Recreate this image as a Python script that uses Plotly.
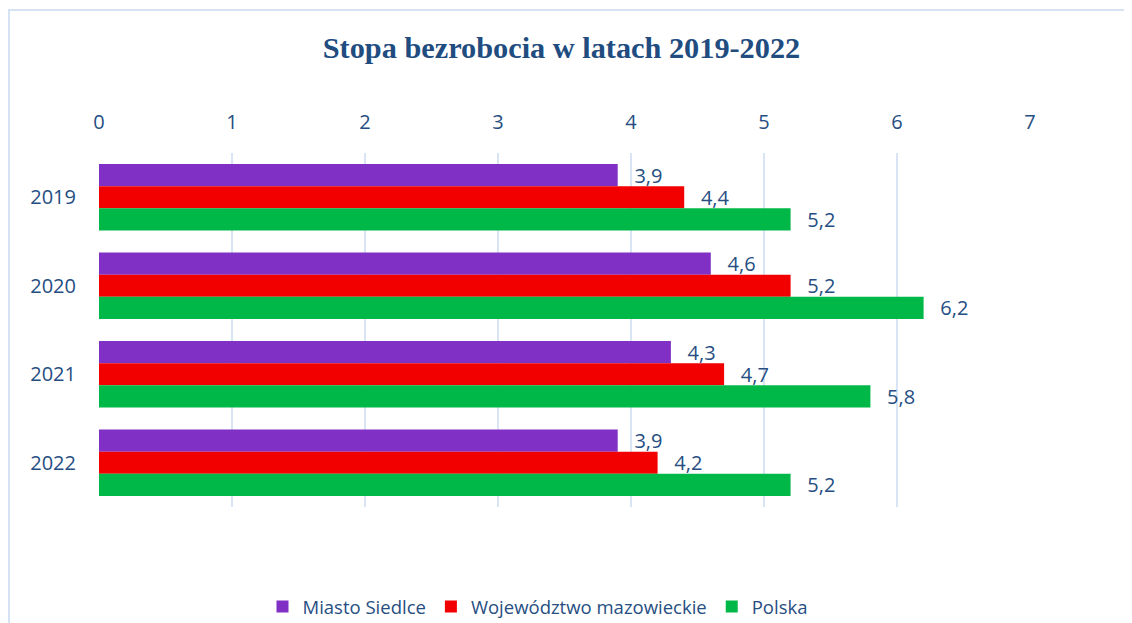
import plotly.graph_objects as go

years = ["2019", "2020", "2021", "2022"]
series_names = ["Miasto Siedlce", "Województwo mazowieckie", "Polska"]
siedlce = [3.9, 4.6, 4.3, 3.9]
mazowieckie = [4.4, 5.2, 4.7, 4.2]
polska = [5.2, 6.2, 5.8, 5.2]
x_ticks = [0, 1, 2, 3, 4, 5, 6, 7]

colors = ["#8030C4", "#F20000", "#00B847"]
text_color = "#264E82"
font_family = "Open Sans, Lato, sans-serif"

W, H = 1124, 615  # page adds an 8px body margin
L, R, T, B = 91, 102, 145, 116
pw, ph = W - L - R, H - T - B

fig = go.Figure()
for name, vals, col in zip(series_names, [siedlce, mazowieckie, polska], colors):
    fig.add_trace(go.Bar(
        y=years, x=vals, name=name, orientation="h",
        marker=dict(color=col, line=dict(width=0)),
        text=["\u00a0\u00a0\u2009" + f"{v:.1f}".replace(".", ",") for v in vals],
        textposition="outside",
        constraintext="none",
        textfont=dict(size=20, color=text_color, family=font_family),
        cliponaxis=False,
    ))

fig.update_layout(
    width=W, height=H,
    paper_bgcolor="white", plot_bgcolor="white",
    barmode="group", bargap=0.25, bargroupgap=0,
    margin=dict(l=L, r=R, t=T, b=B, autoexpand=False),
    title=dict(text="<b>Stopa bezrobocia w latach 2019-2022</b>",
               x=553.5 / W, xanchor="center", y=1 - 39 / H, yanchor="middle",
               font=dict(family="Liberation Serif, Times New Roman, serif", size=30.3, color="#214C80")),
    legend=dict(orientation="h", x=0.471, xanchor="center", y=(ph - (599 - T)) / ph, yanchor="middle",
                font=dict(size=18.5, color=text_color, family=font_family),
                itemwidth=30, traceorder="normal"),
    xaxis=dict(side="top", range=[0, 7], tickvals=x_ticks, showgrid=True,
               gridcolor="#D9E5F5", gridwidth=2, zeroline=False, showline=False,
               tickfont=dict(size=20, color=text_color, family=font_family),
               ticklabelstandoff=19),
    yaxis=dict(autorange="reversed", showgrid=False, showline=False, zeroline=False,
               tickfont=dict(size=20, color=text_color, family=font_family),
               ticklabelstandoff=22),
    showlegend=True,
)

# outer chart frame (partially visible)
fig.add_shape(type="rect", xref="paper", yref="paper",
              x0=(1 - L) / pw, x1=(W + 20 - L) / pw,
              y0=(ph - (H + 20 - T)) / ph, y1=(ph - (2 - T)) / ph,
              line=dict(color="#D6E3F5", width=2), fillcolor="rgba(0,0,0,0)", layer="below")

fig.write_html("out.html")
